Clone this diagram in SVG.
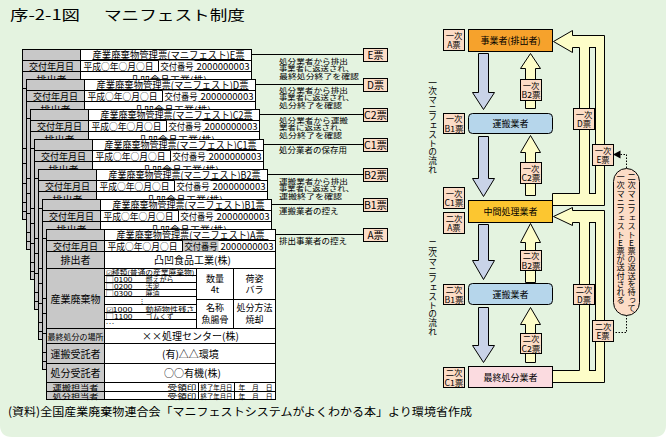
<svg xmlns="http://www.w3.org/2000/svg" xmlns:xlink="http://www.w3.org/1999/xlink" width="666" height="445" viewBox="0 0 666 445">
<style>
text{font-family:"Noto Sans CJK JP","Noto Sans CJK SC",sans-serif;fill:#000}
.t14{font-size:14px}
.f11{font-size:11.5px}
.f10{font-size:10px}
.f9{font-size:9px}
.f85{font-size:8.5px}
.f8{font-size:8px}
.s8{font-size:8.3px}
.f7{font-size:7px}
.f65{font-size:6.3px}
.mid{text-anchor:middle}
.ln{stroke:#000;stroke-width:1;fill:none}
.cell{fill:#fff;stroke:#000}
.gray{fill:#c8c8c8;stroke:#000}
.lab{fill:#fcdcc6;stroke:#000}
.down{fill:#c9d3e8;stroke:#000}
.up{fill:#fdfdc8;stroke:#000}
.gap{fill:#e4f3e0;stroke:#000}
.dash{stroke:#000;fill:none;stroke-dasharray:1.5 1.5}
.vt{writing-mode:vertical-rl;text-orientation:upright}
</style>
<defs>
<clipPath id="cut"><rect x="-1" y="-1" width="231" height="31"/></clipPath>
<g id="frame">
<rect class="cell" x="0" y="0" width="229" height="170"/>
<rect class="gray" x="0" y="0" width="58" height="170"/>
<path class="ln" d="M0 11H229M0 22H229M0 39H229M0 99H229M0 114H229M0 134H229M0 153H229M0 162H229"/>
</g>
<g id="toprows">
<rect x="136" y="11" width="36" height="11" stroke="none"/>
<path class="ln" d="M136 11V22M70 10H222"/>
<text class="f9 mid" x="29" y="20">交付年月日</text>
<text class="f9" x="61" y="20" textLength="70" lengthAdjust="spacingAndGlyphs">平成○年○月○日</text>
<text class="f9" x="138" y="20" textLength="33" lengthAdjust="spacingAndGlyphs">交付番号</text>
<text class="f9" x="174" y="20" textLength="53" lengthAdjust="spacingAndGlyphs">2000000003</text>
<text class="f10 mid" x="29" y="34.5">排出者</text>
<text class="f10 mid" x="146" y="34.5">凸凹食品工業(株)</text>
</g>
</defs>

<path d="M0 0H666V425Q666 437 654 437H12Q0 437 0 425Z" fill="#e4f3e0"/>

<g id="title">
<text class="t14" x="10" y="19.5" textLength="70" lengthAdjust="spacingAndGlyphs">序-2-1図</text>
<text class="t14" x="104" y="19.5" textLength="141" lengthAdjust="spacingAndGlyphs">マニフェスト制度</text>
</g>

<g id="form-E" transform="translate(22.5,49.5)">
<use href="#frame"/><use href="#toprows" fill="#fff" clip-path="url(#cut)"/>
<text class="f10" x="70" y="9" textLength="152" lengthAdjust="spacingAndGlyphs">産業廃棄物管理票(マニフェスト)E票</text>
</g>
<g id="form-D" transform="translate(26.5,79.5)">
<use href="#frame"/><use href="#toprows" fill="#fff" clip-path="url(#cut)"/>
<text class="f10" x="70" y="9" textLength="152" lengthAdjust="spacingAndGlyphs">産業廃棄物管理票(マニフェスト)D票</text>
</g>
<g id="form-C2" transform="translate(30.5,109.5)">
<use href="#frame"/><use href="#toprows" fill="#fff" clip-path="url(#cut)"/>
<text class="f10" x="70" y="9" textLength="152" lengthAdjust="spacingAndGlyphs">産業廃棄物管理票(マニフェスト)C2票</text>
</g>
<g id="form-C1" transform="translate(34.5,139.5)">
<use href="#frame"/><use href="#toprows" fill="#fff" clip-path="url(#cut)"/>
<text class="f10" x="70" y="9" textLength="152" lengthAdjust="spacingAndGlyphs">産業廃棄物管理票(マニフェスト)C1票</text>
</g>
<g id="form-B2" transform="translate(38.5,169.5)">
<use href="#frame"/><use href="#toprows" fill="#fff" clip-path="url(#cut)"/>
<text class="f10" x="70" y="9" textLength="152" lengthAdjust="spacingAndGlyphs">産業廃棄物管理票(マニフェスト)B2票</text>
</g>
<g id="form-B1" transform="translate(42.5,199.5)">
<use href="#frame"/><use href="#toprows" fill="#fff" clip-path="url(#cut)"/>
<text class="f10" x="70" y="9" textLength="152" lengthAdjust="spacingAndGlyphs">産業廃棄物管理票(マニフェスト)B1票</text>
</g>
<g id="form-A" transform="translate(46.5,229.5)">
<use href="#frame"/><use href="#toprows" fill="#c8c8c8"/>
<text class="f10" x="70" y="9" textLength="148" lengthAdjust="spacingAndGlyphs">産業廃棄物管理票(マニフェスト)A票</text>
<text class="f10 mid" x="29" y="73">産業廃棄物</text>
<path class="ln" d="M58 46H150M58 53H150M58 60H150M58 67H150M58 75H150M58 83H150M58 90H150M150 39V99M187 39V99M150 70H229"/>
<text class="f65" x="59" y="45.5" textLength="89" lengthAdjust="spacingAndGlyphs">☑種類(普通の産業廃棄物)</text>
<text class="f65" x="59" y="52.5" textLength="27" lengthAdjust="spacingAndGlyphs">□0100</text>
<text class="f65" x="99" y="52.5" textLength="28" lengthAdjust="spacingAndGlyphs">燃えがら</text>
<text class="f65" x="59" y="59.5" textLength="27" lengthAdjust="spacingAndGlyphs">□0200</text>
<text class="f65" x="99" y="59.5" textLength="14" lengthAdjust="spacingAndGlyphs">汚泥</text>
<text class="f65" x="59" y="66.5" textLength="27" lengthAdjust="spacingAndGlyphs">□0300</text>
<text class="f65" x="99" y="66.5" textLength="14" lengthAdjust="spacingAndGlyphs">廃油</text>
<text class="f65" x="92" y="73.5">⋮</text>
<text class="f65" x="59" y="82" textLength="27" lengthAdjust="spacingAndGlyphs">☑1000</text>
<text class="f65" x="99" y="82" textLength="49" lengthAdjust="spacingAndGlyphs">動植物性残さ</text>
<text class="f65" x="59" y="89" textLength="27" lengthAdjust="spacingAndGlyphs">□1100</text>
<text class="f65" x="99" y="89" textLength="28" lengthAdjust="spacingAndGlyphs">ゴムくず</text>
<text class="f65" x="59" y="96.5" textLength="9" lengthAdjust="spacingAndGlyphs">…</text>
<text class="f9 mid" x="168.5" y="52">数量</text>
<text class="f9 mid" x="168.5" y="63">4t</text>
<text class="f9 mid" x="208" y="52">荷姿</text>
<text class="f9 mid" x="208" y="63">バラ</text>
<text class="f9 mid" x="168.5" y="81">名称</text>
<text class="f9 mid" x="168.5" y="93">魚腸骨</text>
<text class="f9 mid" x="208" y="81">処分方法</text>
<text class="f9 mid" x="208" y="93">焼却</text>
<text class="f8" x="1" y="110" textLength="56" lengthAdjust="spacingAndGlyphs">最終処分の場所</text>
<text class="f10 mid" x="144" y="110.5">××処理センター(株)</text>
<text class="f10 mid" x="29" y="128">運搬受託者</text>
<text class="f10 mid" x="144" y="128">(有)△△環境</text>
<text class="f10 mid" x="29" y="147.5">処分受託者</text>
<text class="f10 mid" x="146" y="147.5">○○有機(株)</text>
<text class="f7" x="6" y="160.5" textLength="46" lengthAdjust="spacingAndGlyphs">運搬担当者</text>
<text class="f7" x="6" y="169" textLength="46" lengthAdjust="spacingAndGlyphs">処分担当者</text>
<path class="ln" d="M152 153V170M188 153V170"/>
<text class="f7" x="121" y="160.5" textLength="29" lengthAdjust="spacingAndGlyphs">受領印</text>
<text class="f7" x="154" y="160.5" textLength="32" lengthAdjust="spacingAndGlyphs">終了年月日</text>
<text class="f7" x="192" y="160.5" textLength="34" lengthAdjust="spacingAndGlyphs">年　月　日</text>
<text class="f7" x="121" y="169" textLength="29" lengthAdjust="spacingAndGlyphs">受領印</text>
<text class="f7" x="154" y="169" textLength="32" lengthAdjust="spacingAndGlyphs">終了年月日</text>
<text class="f7" x="192" y="169" textLength="34" lengthAdjust="spacingAndGlyphs">年　月　日</text>
</g>

<g id="connectors">
<path class="ln" d="M251.5 54.5H363.5M255.5 84.5H363.5M259.5 114.5H363.5M263.5 144.5H363.5M267.5 174.5H363.5M271.5 204.5H363.5M275.5 234.5H363.5"/>
<path class="down" d="M478.5 53.5H488.5V92.5H494.5L483.5 109.5L472.5 92.5H478.5Z"/>
<path class="down" d="M478.5 136.5H488.5V178.5H494.5L483.5 196.5L472.5 178.5H478.5Z"/>
<path class="down" d="M478.5 224.5H488.5V260.5H494.5L483.5 279.5L472.5 260.5H478.5Z"/>
<path class="down" d="M478.5 307.5H488.5V345.5H494.5L483.5 362.5L472.5 345.5H478.5Z"/>
<path class="up" d="M525.5 108.5V68.5H520.5L530.5 53.5L540.5 68.5H535.5V108.5Z"/>
<path class="up" d="M525.5 195.5V152.5H520.5L530.5 135.5L540.5 152.5H535.5V195.5Z"/>
<path class="up" d="M525.5 282.5V242.5H520.5L530.5 223.5L540.5 242.5H535.5V282.5Z"/>
<path class="up" d="M525.5 362.5V324.5H520.5L530.5 307.5L540.5 324.5H535.5V362.5Z"/>
<path class="up" d="M553.5 41.5L572.5 30.5V35.5H604.5V205.5H552.5V193.5H579.5V47.5H572.5V52.5Z"/>
<rect class="gap" x="589.5" y="47.5" width="6" height="146"/>
<path class="up" d="M553.5 216.5L572.5 207.5V210.5H604.5V382.5H552.5V370.5H579.5V222.5H572.5V225.5Z"/>
<rect class="gap" x="589.5" y="222.5" width="6" height="148"/>
<path class="dash" d="M626.5 168V154.5H620"/>
<path d="M613 154.5L620.5 150.5V158.5Z" fill="#000"/>
<path class="dash" d="M626.5 315V332.5H613"/>
</g>

<g id="tag-E"><rect class="lab" x="363.5" y="48.5" width="24" height="13"/><text class="f10 mid" x="375.5" y="59">E票</text></g>
<g id="tag-D"><rect class="lab" x="363.5" y="78.5" width="24" height="13"/><text class="f10 mid" x="375.5" y="89">D票</text></g>
<g id="tag-C2"><rect class="lab" x="363.5" y="108.5" width="24" height="13"/><text class="f10 mid" x="375.5" y="119" textLength="23" lengthAdjust="spacingAndGlyphs">C2票</text></g>
<g id="tag-C1"><rect class="lab" x="363.5" y="138.5" width="24" height="13"/><text class="f10 mid" x="375.5" y="149" textLength="23" lengthAdjust="spacingAndGlyphs">C1票</text></g>
<g id="tag-B2"><rect class="lab" x="363.5" y="168.5" width="24" height="13"/><text class="f10 mid" x="375.5" y="179" textLength="23" lengthAdjust="spacingAndGlyphs">B2票</text></g>
<g id="tag-B1"><rect class="lab" x="363.5" y="198.5" width="24" height="13"/><text class="f10 mid" x="375.5" y="209" textLength="23" lengthAdjust="spacingAndGlyphs">B1票</text></g>
<g id="tag-A"><rect class="lab" x="363.5" y="228.5" width="24" height="13"/><text class="f10 mid" x="375.5" y="239">A票</text></g>

<g id="notes">
<text class="f7" x="279" y="63.5" textLength="69" lengthAdjust="spacingAndGlyphs">処分業者から排出</text>
<text class="f7" x="279" y="71" textLength="75" lengthAdjust="spacingAndGlyphs">事業者に返送され、</text>
<text class="f7" x="279" y="78.5" textLength="80" lengthAdjust="spacingAndGlyphs">最終処分終了を確認</text>
<text class="f7" x="279" y="92.5" textLength="69" lengthAdjust="spacingAndGlyphs">処分業者から排出</text>
<text class="f7" x="279" y="100" textLength="75" lengthAdjust="spacingAndGlyphs">事業者に返送され、</text>
<text class="f7" x="279" y="107.5" textLength="63" lengthAdjust="spacingAndGlyphs">処分終了を確認</text>
<text class="f7" x="279" y="122.5" textLength="69" lengthAdjust="spacingAndGlyphs">処分業者から運搬</text>
<text class="f7" x="279" y="130" textLength="68" lengthAdjust="spacingAndGlyphs">業者に返送され、</text>
<text class="f7" x="279" y="137.5" textLength="63" lengthAdjust="spacingAndGlyphs">処分終了を確認</text>
<text class="f85" x="279" y="153">処分業者の保存用</text>
<text class="f7" x="279" y="183.5" textLength="69" lengthAdjust="spacingAndGlyphs">運搬業者から排出</text>
<text class="f7" x="279" y="191" textLength="75" lengthAdjust="spacingAndGlyphs">事業者に返送され、</text>
<text class="f7" x="279" y="198.5" textLength="63" lengthAdjust="spacingAndGlyphs">運搬終了を確認</text>
<text class="f85" x="279" y="213.5">運搬業者の控え</text>
<text class="f85" x="279" y="244">排出事業者の控え</text>
</g>

<g id="flow-labels">
<text class="vt" x="432.5" y="78" style="font-size:8.7px">一次マニフェストの流れ</text>
<text class="vt" x="432.5" y="240" style="font-size:8.7px">二次マニフェストの流れ</text>
</g>

<g id="jigyosha"><rect x="468.5" y="29.5" width="84" height="22" fill="#f6a22c" stroke="#000"/><text class="f9 mid" x="510.5" y="44">事業者(排出者)</text></g>
<g id="unpan1"><rect x="468.5" y="113.5" width="84" height="20" rx="4" fill="#b6d6eb" stroke="#000"/><text class="f9 mid" x="510.5" y="127">運搬業者</text></g>
<g id="chukan"><rect x="468.5" y="200.5" width="84" height="22" fill="#fcc630" stroke="#000"/><text class="f9 mid" x="510.5" y="215">中間処理業者</text></g>
<g id="unpan2"><rect x="468.5" y="283.5" width="84" height="21" rx="4" fill="#b6d6eb" stroke="#000"/><text class="f9 mid" x="510.5" y="297.5">運搬業者</text></g>
<g id="saishu"><rect x="468.5" y="366.5" width="84" height="21" fill="#fbdbe0" stroke="#000"/><text class="f9 mid" x="510.5" y="380.5">最終処分業者</text></g>

<g id="l1-A"><rect class="lab" x="443.5" y="29.5" width="21" height="21"/><text class="s8 mid" x="454" y="38.5">一次</text><text class="s8 mid" x="454" y="48">A票</text></g>
<g id="l1-B1"><rect class="lab" x="443.5" y="113.5" width="21" height="20"/><text class="s8 mid" x="454" y="122">一次</text><text class="s8 mid" x="454" y="131.5" textLength="19" lengthAdjust="spacingAndGlyphs">B1票</text></g>
<g id="l1-C1"><rect class="lab" x="443.5" y="187.5" width="21" height="21"/><text class="s8 mid" x="454" y="196.5">一次</text><text class="s8 mid" x="454" y="206" textLength="19" lengthAdjust="spacingAndGlyphs">C1票</text></g>
<g id="l2-A"><rect class="lab" x="443.5" y="212.5" width="21" height="21"/><text class="s8 mid" x="454" y="221.5">二次</text><text class="s8 mid" x="454" y="231">A票</text></g>
<g id="l2-B1"><rect class="lab" x="443.5" y="284.5" width="21" height="20"/><text class="s8 mid" x="454" y="293">二次</text><text class="s8 mid" x="454" y="302.5" textLength="19" lengthAdjust="spacingAndGlyphs">B1票</text></g>
<g id="l2-C1"><rect class="lab" x="443.5" y="367.5" width="21" height="20"/><text class="s8 mid" x="454" y="376">二次</text><text class="s8 mid" x="454" y="385.5" textLength="19" lengthAdjust="spacingAndGlyphs">C1票</text></g>
<g id="l1-B2"><rect class="lab" x="520.5" y="79.5" width="21" height="21"/><text class="s8 mid" x="531" y="88.5">一次</text><text class="s8 mid" x="531" y="98" textLength="19" lengthAdjust="spacingAndGlyphs">B2票</text></g>
<g id="l1-C2"><rect class="lab" x="520.5" y="162.5" width="21" height="21"/><text class="s8 mid" x="531" y="171.5">一次</text><text class="s8 mid" x="531" y="181" textLength="19" lengthAdjust="spacingAndGlyphs">C2票</text></g>
<g id="l2-B2"><rect class="lab" x="520.5" y="250.5" width="21" height="20"/><text class="s8 mid" x="531" y="259">二次</text><text class="s8 mid" x="531" y="268.5" textLength="19" lengthAdjust="spacingAndGlyphs">B2票</text></g>
<g id="l2-C2"><rect class="lab" x="520.5" y="333.5" width="21" height="20"/><text class="s8 mid" x="531" y="342">二次</text><text class="s8 mid" x="531" y="351.5" textLength="19" lengthAdjust="spacingAndGlyphs">C2票</text></g>
<g id="l1-D"><rect class="lab" x="573.5" y="108.5" width="21" height="21"/><text class="s8 mid" x="584" y="117.5">一次</text><text class="s8 mid" x="584" y="127">D票</text></g>
<g id="l1-E"><rect class="lab" x="592.5" y="144.5" width="21" height="21"/><text class="s8 mid" x="603" y="153.5">一次</text><text class="s8 mid" x="603" y="163">E票</text></g>
<g id="l2-D"><rect class="lab" x="573.5" y="284.5" width="21" height="20"/><text class="s8 mid" x="584" y="293">二次</text><text class="s8 mid" x="584" y="302.5">D票</text></g>
<g id="l2-E"><rect class="lab" x="592.5" y="320.5" width="21" height="21"/><text class="s8 mid" x="603" y="329.5">二次</text><text class="s8 mid" x="603" y="339">E票</text></g>

<g id="note-box">
<rect x="613.5" y="168.5" width="26" height="147" rx="13" fill="#fcdcc6" stroke="#000"/>
<text class="vt" x="631.5" y="173" style="font-size:8.2px">二次マニフェストE票の返送を待って</text>
<text class="vt" x="620.5" y="173" style="font-size:8.2px">一次マニフェストE票が送付される</text>
</g>

<g id="footer">
<text class="f11" x="8" y="416" textLength="464" lengthAdjust="spacingAndGlyphs">(資料)全国産業廃棄物連合会「マニフェストシステムがよくわかる本」より環境省作成</text>
</g>
</svg>
